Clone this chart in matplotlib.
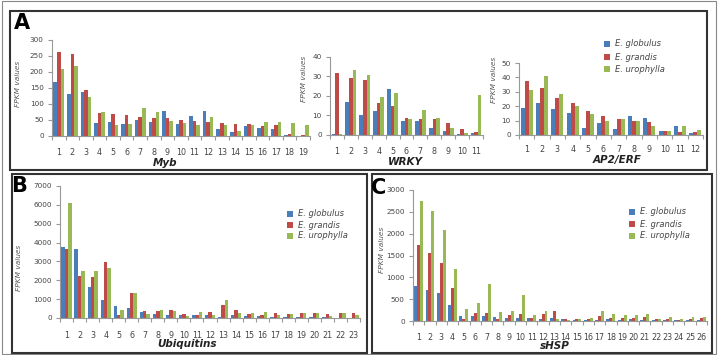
import matplotlib
matplotlib.use('Agg')
import matplotlib.pyplot as plt
from matplotlib.patches import Rectangle
import numpy as np

W, H = 720, 355
series = ['E. globulus', 'E. grandis', 'E. urophylla']
colors = ['#4a7ebb', '#be4b48', '#98b954']

# Myb
myb_glob = [170, 132, 138, 42, 45, 37, 50, 44, 78, 38, 63, 78, 23, 12, 32, 25, 22, 2, 0]
myb_grand = [262, 255, 145, 72, 68, 65, 60, 57, 57, 50, 47, 45, 40, 38, 38, 32, 33, 5, 3]
myb_uro = [208, 220, 122, 75, 33, 37, 88, 75, 47, 42, 33, 58, 33, 15, 33, 45, 45, 40, 35]
# WRKY
wrky_glob = [0.5, 17, 10, 12.5, 23.5, 7, 7, 3.5, 2, 0.5, 1]
wrky_grand = [32, 29, 28, 16.5, 15, 8.5, 8, 8, 6, 3, 1.5]
wrky_uro = [0.5, 33.5, 31, 19.5, 21.5, 8, 13, 8.5, 3.5, 1, 20.5]
# AP2/ERF
ap2_glob = [19, 22, 18, 15, 5, 8, 4, 13, 12, 2.5, 6, 1.5]
ap2_grand = [37.5, 32.5, 26, 22.5, 17, 13, 11, 10, 9, 2.5, 2, 2]
ap2_uro = [31, 41, 28.5, 20, 14.5, 10, 11, 10, 6, 2.5, 6, 3.5]
# Ubiquitins
ubq_glob = [3750, 3650, 1650, 950, 620, 550, 330, 200, 150, 150, 150, 150, 30, 150, 100, 80, 50, 30, 30, 30, 30, 20, 20]
ubq_grand = [3680, 2250, 2150, 2950, 150, 1300, 350, 350, 420, 200, 150, 320, 700, 420, 200, 150, 250, 200, 250, 250, 200, 250, 250]
ubq_uro = [6100, 2500, 2500, 2650, 420, 1350, 200, 450, 380, 120, 300, 180, 980, 250, 250, 300, 180, 200, 250, 250, 120, 250, 180]
# sHSP
hsp_glob = [800, 700, 640, 360, 120, 120, 110, 90, 80, 80, 60, 50, 60, 40, 30, 30, 30, 40, 30, 40, 30, 20, 30, 20, 20, 30]
hsp_grand = [1740, 1560, 1320, 750, 50, 180, 180, 50, 130, 170, 80, 150, 220, 40, 50, 50, 120, 80, 60, 70, 100, 40, 50, 30, 50, 70]
hsp_uro = [2750, 2520, 2080, 1200, 280, 420, 850, 200, 230, 600, 130, 230, 40, 30, 50, 60, 240, 150, 130, 130, 150, 40, 90, 40, 90, 100]

fig = plt.figure(figsize=(W / 100, H / 100), dpi=100)
fig.patch.set_facecolor('white')

def fx(x):
    return x / W

def fy(y):
    return 1 - y / H

def rect_px(x0, y0, x1, y1):
    return [x0 / W, 1 - y1 / H, (x1 - x0) / W, (y1 - y0) / H]

def frame(x0, y0, x1, y1, lw=1.5, color='#333333'):
    fig.patches.append(Rectangle((fx(x0), fy(y1)), fx(x1) - fx(x0), fy(y0) - fy(y1),
                                 transform=fig.transFigure, fill=False,
                                 edgecolor=color, linewidth=lw))

def panel(box, vals, ymax, ystep, xlabel, xlab_pos, ylab_pos, xpad=9):
    ax = fig.add_axes(rect_px(*box))
    n = len(vals[0])
    x = np.arange(1, n + 1)
    w = 0.26
    for i, (v, c) in enumerate(zip(vals, colors)):
        ax.bar(x + (i - 1) * w, v, w, color=c, edgecolor='none')
    ax.set_xlim(0.5, n + 0.5)
    ax.set_ylim(0, ymax)
    ax.set_yticks(np.arange(0, ymax + 1, ystep))
    ax.set_xticks(x)
    ax.set_xticklabels([str(i) for i in x])
    ax.set_xticks(np.arange(0.5, n + 1, 1), minor=True)
    ax.tick_params(axis='x', which='major', length=0, pad=xpad, labelsize=5.8, labelcolor='#444444')
    ax.tick_params(axis='x', which='minor', length=3, color='#999999', width=0.8)
    ax.tick_params(axis='y', which='major', length=3, color='#999999', width=0.8,
                   labelsize=5.2, labelcolor='#444444', pad=3)
    for s in ['top', 'right']:
        ax.spines[s].set_visible(False)
    for s in ['left', 'bottom']:
        ax.spines[s].set_color('#999999')
        ax.spines[s].set_linewidth(0.8)
    ax.set_facecolor('none')
    fig.text(fx(xlab_pos[0]), fy(xlab_pos[1]), xlabel, ha='center', va='center',
             fontsize=7.5, fontweight='bold', fontstyle='italic', color='#222222')
    fig.text(fx(ylab_pos[0]), fy(ylab_pos[1]), 'FPKM values', ha='center', va='center',
             rotation=90, fontsize=5.3, fontstyle='italic', color='#555555')
    return ax

def legend(x, ys):
    for yy, c, s in zip(ys, colors, series):
        fig.patches.append(Rectangle((fx(x - 3), fy(yy + 3)), 6 / W, 6 / H,
                                     transform=fig.transFigure, facecolor=c, edgecolor='none'))
        fig.text(fx(x + 8), fy(yy), s, ha='left', va='center', fontsize=6,
                 fontstyle='italic', color='#444444')

# frames
frame(2, 1, 716, 354, lw=0.8, color='#888888')
frame(10, 11, 707, 170)
frame(12, 174, 367, 353)
frame(372, 174, 712, 353)

# Panel A
panel((52, 40, 310, 136), [myb_glob, myb_grand, myb_uro], 300, 50, 'Myb', (165, 163), (18, 84))
panel((330, 57, 483, 135), [wrky_glob, wrky_grand, wrky_uro], 40, 10, 'WRKY', (405, 162), (304, 79))
panel((519, 63, 703, 135), [ap2_glob, ap2_grand, ap2_uro], 50, 10, 'AP2/ERF', (617, 159.5), (494, 80), xpad=7)
legend(607, [44, 57, 69])

# Panel B
panel((60, 186, 360, 318), [ubq_glob, ubq_grand, ubq_uro], 7000, 1000, 'Ubiquitins', (187, 344), (19, 268))
legend(290, [214, 225, 236])

# Panel C
panel((413, 190, 707, 321), [hsp_glob, hsp_grand, hsp_uro], 3000, 500, 'sHSP', (555, 346), (382, 250))
legend(632, [212, 224, 236])

# Panel letters
fig.text(fx(22), fy(23), 'A', ha='center', va='center', fontsize=15, fontweight='bold')
fig.text(fx(19), fy(186), 'B', ha='center', va='center', fontsize=15, fontweight='bold')
fig.text(fx(379), fy(188), 'C', ha='center', va='center', fontsize=15, fontweight='bold')

fig.savefig('out.png', dpi=100)
